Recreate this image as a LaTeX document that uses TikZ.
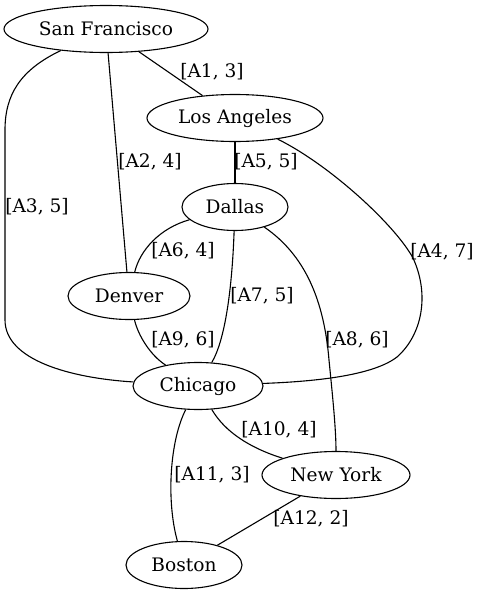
\documentclass[tikz,border=0pt]{standalone}
\usepackage{fontspec}
\setmainfont{DejaVu Serif}
\usetikzlibrary{shapes.geometric}

\begin{document}
\begin{tikzpicture}[x=0.5pt,y=-0.5pt,font=\fontsize{9.3}{11}\selectfont,line width=0.55pt,
   city/.style={draw,ellipse,inner sep=0pt,minimum height=23.5pt},
   cost/.style={inner sep=0pt}]
  \useasboundingbox (0,0) rectangle (480,595);
  \node[city,minimum width=102pt] (sf)  at (106,29)  {San Francisco};
  \node[city,minimum width=88pt]  (la)  at (235,118) {Los Angeles};
  \node[city,minimum width=53pt]  (dal) at (235,207) {Dallas};
  \node[city,minimum width=61pt]  (den) at (129,296) {Denver};
  \node[city,minimum width=65pt]  (chi) at (198,386) {Chicago};
  \node[city,minimum width=74pt]  (ny)  at (336,475) {New York};
  \node[city,minimum width=58pt]  (bos) at (184,565) {Boston};
  \draw (sf) -- (la);
  \draw (sf) -- (den);
  \draw (sf) .. controls (20,70) and (5,95) .. (5,130) -- (5,320) .. controls (5,360) and (70,378) .. (chi);
  \draw (la) .. controls (330,165) and (395,225) .. (413,258) .. controls (430,295) and (422,335) .. (397,357) .. controls (370,378) and (300,382) .. (chi);
  \draw (la) -- (dal);
  \draw (dal) .. controls (160,228) and (140,250) .. (den);
  \draw (dal) .. controls (232,290) and (225,340) .. (chi);
  \draw (dal) .. controls (305,255) and (324,300) .. (329,360) .. controls (333,400) and (336,430) .. (ny);
  \draw (den) .. controls (138,335) and (150,355) .. (chi);
  \draw (chi) .. controls (225,432) and (250,448) .. (ny);
  \draw (chi) .. controls (170,440) and (166,500) .. (bos);
  \draw (ny) -- (bos);
  \node[cost] (c1)  at (212,72)  {[A1, 3]};
  \node[cost] (c2)  at (150,162) {[A2, 4]};
  \node[cost] (c3)  at (37,207)  {[A3, 5]};
  \node[cost] (c4)  at (442,252) {[A4, 7]};
  \node[cost] (c5)  at (266,162) {[A5, 5]};
  \node[cost] (c6)  at (183,251) {[A6, 4]};
  \node[cost] (c7)  at (262,296) {[A7, 5]};
  \node[cost] (c8)  at (357,340) {[A8, 6]};
  \node[cost] (c9)  at (183,340) {[A9, 6]};
  \node[cost] (c10) at (279,430) {[A10, 4]};
  \node[cost] (c11) at (212,475) {[A11, 3]};
  \node[cost] (c12) at (311,519) {[A12, 2]};
\end{tikzpicture}
\end{document}
